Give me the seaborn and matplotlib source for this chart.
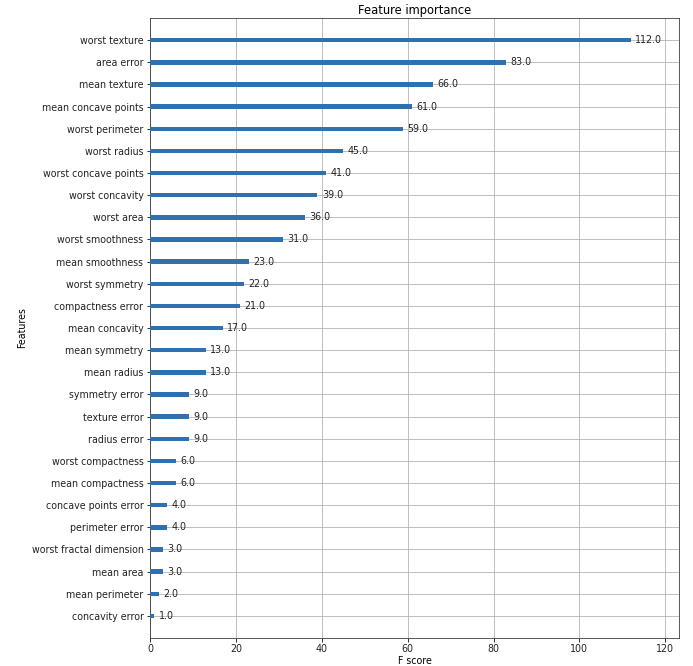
import matplotlib
matplotlib.use("Agg")
import matplotlib.pyplot as plt
import seaborn as sns
import pandas as pd

features = ["worst texture", "area error", "mean texture", "mean concave points",
            "worst perimeter", "worst radius", "worst concave points", "worst concavity",
            "worst area", "worst smoothness", "mean smoothness", "worst symmetry",
            "compactness error", "mean concavity", "mean symmetry", "mean radius",
            "symmetry error", "texture error", "radius error", "worst compactness",
            "mean compactness", "concave points error", "perimeter error",
            "worst fractal dimension", "mean area", "mean perimeter", "concavity error"]
scores = [112, 83, 66, 61, 59, 45, 41, 39, 36, 31, 23, 22, 21, 17, 13, 13,
          9, 9, 9, 6, 6, 4, 4, 3, 3, 2, 1]

df = pd.DataFrame({"feature": features, "score": scores})

fig = plt.figure(figsize=(693/72, 666/72), dpi=72)
ax = fig.add_axes([150/693, 1-638/666, (679-150)/693, (638-18)/666])

sns.barplot(data=df, x="score", y="feature", orient="h", width=0.2,
            color="#2f70ae", saturation=1, ax=ax, zorder=3)

for i, v in enumerate(scores):
    ax.text(v + 1, i, f"{float(v)}", va="center", fontsize=9.5, color="#222222")

ax.set_xlim(0, max(scores) * 1.1)
ax.set_ylim(len(features), -1)
ax.grid(True, color="#b0b0b0", linewidth=0.8, zorder=0)
ax.set_axisbelow(True)
ax.set_title("Feature importance", fontsize=11.5, pad=4)
ax.set_xlabel("F score", fontsize=9.5, labelpad=2)
ax.set_ylabel("Features", fontsize=9.5)
ax.tick_params(labelsize=9.5, labelcolor="#222222", pad=3)
for s in ax.spines.values():
    s.set_color("#333333")

fig.savefig("out.png", dpi=72)
